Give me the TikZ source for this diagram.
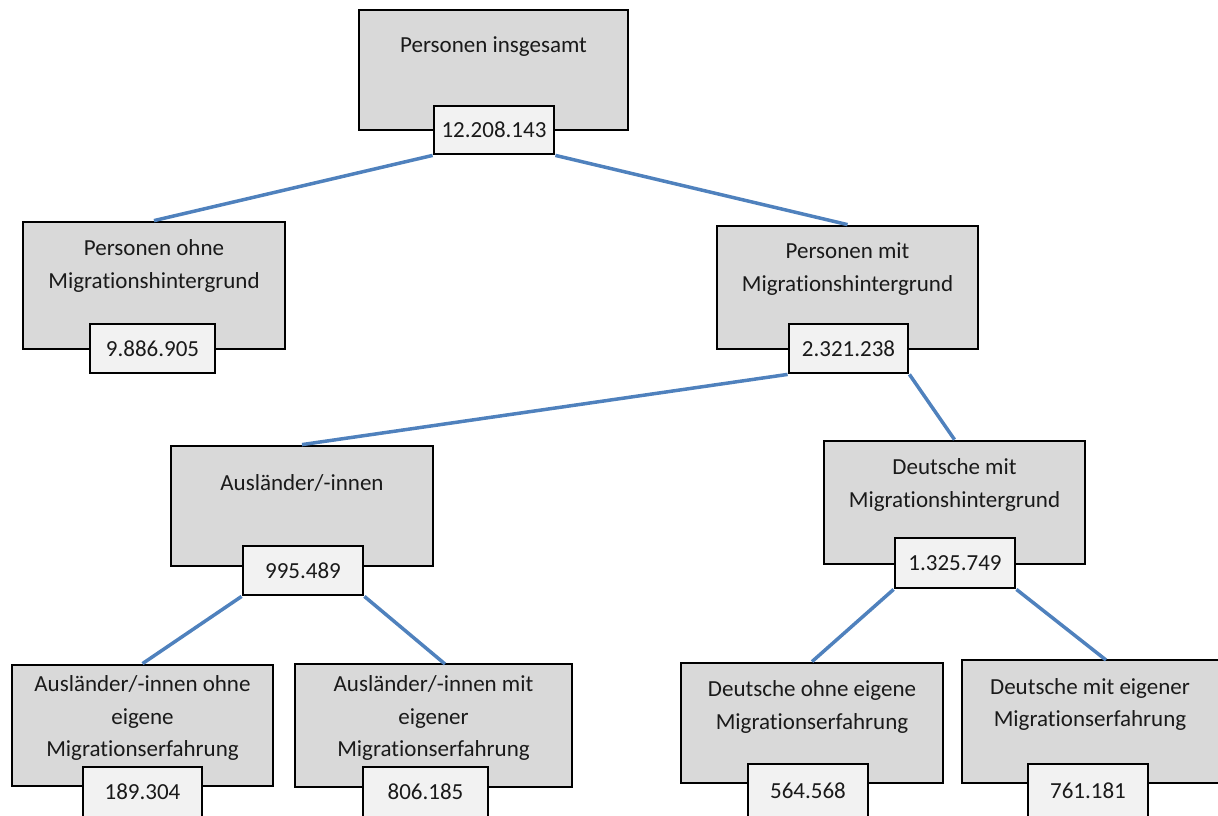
\documentclass[tikz,border=0pt]{standalone}
\usepackage{fontspec}
\setmainfont{Carlito}[Ligatures=NoCommon]
\definecolor{boxgray}{HTML}{D9D9D9}
\definecolor{valgray}{HTML}{F2F2F2}
\definecolor{linkblue}{HTML}{4F81BD}
\definecolor{txt}{HTML}{1A1A1A}
\tikzset{
  catbox/.style={draw=black, line width=2.8pt, fill=boxgray, inner sep=0pt},
  valbox/.style={draw=black, line width=2.8pt, fill=valgray, inner sep=0pt, text=txt, font=\fontsize{23}{32}\selectfont},
  cattext/.style={align=center, inner sep=0pt, text=txt, font=\fontsize{23}{32.5}\selectfont},
  link/.style={draw=linkblue, line width=3.5pt}
}
\begin{document}
\begin{tikzpicture}[x=1pt, y=-1pt]
\useasboundingbox (0,0) rectangle (1218,815);
% category boxes
\node[catbox, minimum width=269pt, minimum height=120pt] (top) at (493.5,70) {};
\node[catbox, minimum width=262pt, minimum height=127pt] (pohne) at (154,285.5) {};
\node[catbox, minimum width=261pt, minimum height=123pt] (pmit) at (847.5,287.5) {};
\node[catbox, minimum width=262pt, minimum height=120pt] (aus) at (302,506) {};
\node[catbox, minimum width=261pt, minimum height=123pt] (dmh) at (954.5,502.5) {};
\node[catbox, minimum width=261pt, minimum height=121pt] (a1) at (142.5,725.5) {};
\node[catbox, minimum width=277pt, minimum height=123pt] (a2) at (433.5,725.5) {};
\node[catbox, minimum width=262pt, minimum height=120pt] (d1) at (812,723) {};
\node[catbox, minimum width=290pt, minimum height=123pt] (d2) at (1107,721.5) {};
% category texts
\node[cattext] (topt) at (493.5,47) {Personen insgesamt};
\node[cattext] (pohnet) at (154,266) {Personen ohne\\Migrationshintergrund};
\node[cattext] (pmitt) at (847.5,269) {Personen mit\\Migrationshintergrund};
\node[cattext] (aust) at (302,483) {Ausländer/-innen};
\node[cattext] (dmht) at (954.5,485) {Deutsche mit\\Migrationshintergrund};
\node[cattext] (a1t) at (142.5,718) {Ausländer/-innen ohne\\eigene\\Migrationserfahrung};
\node[cattext] (a2t) at (433.5,718) {Ausländer/-innen mit\\eigener\\Migrationserfahrung};
\node[cattext] (d1t) at (812,707) {Deutsche ohne eigene\\Migrationserfahrung};
\node[cattext] (d2t) at (1090,704.5) {Deutsche mit eigener\\Migrationserfahrung};
% value boxes
\node[valbox, minimum width=120pt, minimum height=48pt] (v0) at (494,130) {12.208.143};
\node[valbox, minimum width=125pt, minimum height=49pt] (v1) at (152.5,348.5) {9.886.905};
\node[valbox, minimum width=119pt, minimum height=49pt] (v2) at (848.5,348.5) {2.321.238};
\node[valbox, minimum width=120pt, minimum height=49pt] (v3) at (303,570.5) {995.489};
\node[valbox, minimum width=120pt, minimum height=50pt] (v4) at (955,563) {1.325.749};
\node[valbox, minimum width=119pt, minimum height=60pt] (v5) at (142.5,797) {\raisebox{10pt}{189.304}};
\node[valbox, minimum width=125pt, minimum height=60pt] (v6) at (425.5,797) {\raisebox{10pt}{806.185}};
\node[valbox, minimum width=120pt, minimum height=60pt] (v7) at (808,794) {\raisebox{6pt}{564.568}};
\node[valbox, minimum width=120pt, minimum height=60pt] (v8) at (1088,794) {\raisebox{6pt}{761.181}};
% connector end points on box tops
\coordinate (a2in) at (445,664);
\coordinate (d2in) at (1106,660);
% connectors
\draw[link] (v0.south west) -- (pohne.north);
\draw[link] (v0.south east) -- (pmit.north);
\draw[link] (v2.south west) -- (aus.north);
\draw[link] (v2.south east) -- (dmh.north);
\draw[link] (v3.south west) -- (a1.north);
\draw[link] (v3.south east) -- (a2in);
\draw[link] (v4.south west) -- (d1.north);
\draw[link] (v4.south east) -- (d2in);
\end{tikzpicture}
\end{document}
